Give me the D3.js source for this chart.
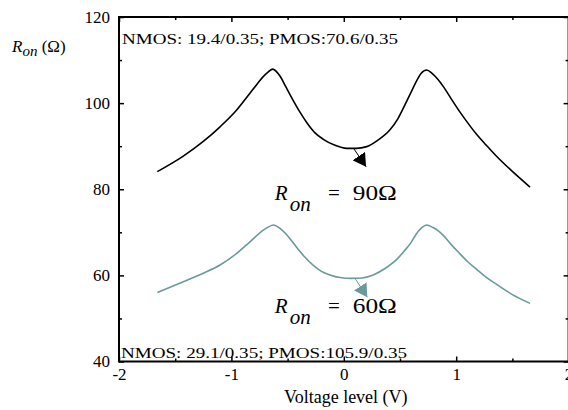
<!DOCTYPE html>
<html lang="en">
<head>
<meta charset="UTF-8">
<title>Ron vs voltage level</title>
<style>
    body { margin: 0; background: #fff; }
    svg text { font-family: "Liberation Serif", "DejaVu Serif", serif; fill: #000; }
    .axis text { font-size: 17px; }
    .axis path { display: none; }
    .axis line { stroke: #000; stroke-width: 1.5; }
</style>
</head>
<body>
<svg width="568" height="410" font-family="Liberation Serif, serif"></svg>
<script src="https://cdn.jsdelivr.net/npm/d3@7"></script>
<script>
    // values
    const nmosV = [-1.659, -1.428, -1.250, -1.101, -0.953, -0.835, -0.772, -0.719, -0.674, -0.633, -0.568, -0.514, -0.452, -0.390, -0.327, -0.256, -0.182, -0.078, 0.026, 0.109, 0.204, 0.304, 0.411, 0.482, 0.544, 0.598, 0.642, 0.687, 0.738, 0.785, 0.838, 0.892, 0.963, 1.034, 1.106, 1.183, 1.265, 1.361, 1.497, 1.657];
    const nmosR = [84.1, 87.7, 91.1, 94.5, 98.4, 102.3, 104.4, 106.1, 107.2, 107.9, 106.3, 103.7, 100.7, 97.9, 95.4, 93.1, 91.6, 90.2, 89.5, 89.5, 89.9, 91.4, 93.8, 96.4, 99.6, 102.5, 104.9, 106.9, 107.7, 106.9, 105.5, 103.6, 100.7, 97.9, 95.3, 92.7, 90.3, 87.6, 84.2, 80.5];
    const pmosV = [-1.659, -1.428, -1.250, -1.101, -0.953, -0.835, -0.716, -0.674, -0.627, -0.568, -0.514, -0.461, -0.408, -0.345, -0.271, -0.203, -0.123, -0.034, 0.070, 0.162, 0.262, 0.367, 0.471, 0.536, 0.598, 0.642, 0.687, 0.738, 0.794, 0.838, 0.885, 0.954, 1.034, 1.105, 1.182, 1.265, 1.360, 1.496, 1.657];
    const pmosR = [56.0, 58.5, 60.5, 62.4, 65.1, 67.8, 70.5, 71.2, 71.7, 70.9, 69.6, 67.9, 66.1, 64.2, 62.3, 61.0, 60.1, 59.5, 59.3, 59.4, 60.1, 61.6, 63.7, 65.6, 67.6, 69.5, 70.9, 71.7, 71.1, 70.4, 69.3, 67.2, 65.0, 63.1, 61.4, 59.6, 57.9, 55.6, 53.5];
    const xTicks = [-2, -1, 0, 1, 2];
    const xMinor = [-1.5, -0.5, 0.5, 1.5];
    const yTicks = [40, 60, 80, 100, 120];
    const yMinor = [50, 70, 90, 110];
    const notes = ["NMOS: 19.4/0.35; PMOS:70.6/0.35", "NMOS: 29.1/0.35; PMOS:105.9/0.35"];
    const ronValues = [90, 60];

    const svg = d3.select("svg");
    const mLeft = 119, mRight = 568.6, mTop = 17, mBottom = 361.5;
    const teal = "#6a9a9a";

    const x = d3.scaleLinear().domain([-2, 2]).range([mLeft, mRight]);
    const y = d3.scaleLinear().domain([40, 120]).range([mBottom, mTop]);

    // axes, ticks point inward
    svg.append("g").attr("class", "axis")
        .attr("transform", `translate(0,${mBottom})`)
        .call(d3.axisBottom(x).tickValues(xTicks).tickSize(-5).tickPadding(6).tickFormat(d => d));
    svg.append("g").attr("class", "axis")
        .attr("transform", `translate(0,${mBottom})`)
        .call(d3.axisBottom(x).tickValues(xMinor).tickSize(-3).tickFormat(""));
    svg.append("g").attr("class", "axis")
        .attr("transform", `translate(0,${mTop})`)
        .call(d3.axisTop(x).tickValues(xTicks).tickSize(-5).tickFormat(""));
    svg.append("g").attr("class", "axis")
        .attr("transform", `translate(0,${mTop})`)
        .call(d3.axisTop(x).tickValues(xMinor).tickSize(-3).tickFormat(""));
    svg.append("g").attr("class", "axis")
        .attr("transform", `translate(${mLeft},0)`)
        .call(d3.axisLeft(y).tickValues(yTicks).tickSize(-5).tickPadding(9).tickFormat(d => d));
    svg.append("g").attr("class", "axis")
        .attr("transform", `translate(${mLeft},0)`)
        .call(d3.axisLeft(y).tickValues(yMinor).tickSize(-3).tickFormat(""));
    svg.append("g").attr("class", "axis")
        .attr("transform", `translate(${mRight},0)`)
        .call(d3.axisRight(y).tickValues(yTicks).tickSize(-5).tickFormat(""));
    svg.append("g").attr("class", "axis")
        .attr("transform", `translate(${mRight},0)`)
        .call(d3.axisRight(y).tickValues(yMinor).tickSize(-3).tickFormat(""));
    svg.selectAll(".axis").attr("font-family", null).attr("font-size", null);

    svg.append("rect")
        .attr("x", mLeft).attr("y", mTop)
        .attr("width", mRight - mLeft).attr("height", mBottom - mTop)
        .attr("fill", "none").attr("stroke", "#000").attr("stroke-width", 2);

    const line = d3.line()
        .x(d => x(d[0]))
        .y(d => y(d[1]))
        .curve(d3.curveMonotoneX);

    svg.append("path")
        .datum(d3.zip(nmosV, nmosR))
        .attr("d", line)
        .attr("fill", "none").attr("stroke", "#000").attr("stroke-width", 1.6);

    svg.append("path")
        .datum(d3.zip(pmosV, pmosR))
        .attr("d", line)
        .attr("fill", "none").attr("stroke", teal).attr("stroke-width", 1.6);

    // arrows from the minimum of each curve
    const defs = svg.append("defs");
    [["blk", "#000"], ["teal", teal]].forEach(([id, c]) => {
        defs.append("marker")
            .attr("id", "arr-" + id)
            .attr("viewBox", "0 0 13 15")
            .attr("refX", 13).attr("refY", 7.5)
            .attr("markerWidth", 13).attr("markerHeight", 15)
            .attr("markerUnits", "userSpaceOnUse")
            .attr("orient", "auto")
            .append("path").attr("d", "M0,0L13,7.5L0,15Z").attr("fill", c);
    });
    svg.append("line")
        .attr("x1", x(0.091)).attr("y1", y(89.35))
        .attr("x2", x(0.198)).attr("y2", y(85.2))
        .attr("stroke", "#000").attr("stroke-width", 1)
        .attr("marker-end", "url(#arr-blk)");
    svg.append("line")
        .attr("x1", x(0.10)).attr("y1", y(59.3))
        .attr("x2", x(0.209)).attr("y2", y(54.9))
        .attr("stroke", teal).attr("stroke-width", 1)
        .attr("marker-end", "url(#arr-teal)");

    // R_on labels inside the plot
    function ronLabel(val, level) {
        const by = y(level);
        const g = svg.append("g").style("font-size", "21px");
        g.append("text").attr("x", x(-0.615)).attr("y", by).style("font-style", "italic").text("R");
        g.append("text").attr("x", x(-0.48)).attr("y", by + 11).style("font-style", "italic").text("on");
        g.append("text").attr("x", x(-0.14)).attr("y", by).text("=");
        g.append("text").attr("x", x(0.08)).attr("y", by)
            .attr("textLength", 44).attr("lengthAdjust", "spacingAndGlyphs")
            .text(val + "Ω");
    }
    ronLabel(ronValues[0], 77.5);
    ronLabel(ronValues[1], 51.2);

    svg.append("text")
        .attr("x", mLeft + 3).attr("y", y(113.7))
        .style("font-size", "15px")
        .attr("textLength", 276).attr("lengthAdjust", "spacingAndGlyphs")
        .text(notes[0]);
    svg.append("text")
        .attr("x", mLeft + 2).attr("y", y(40.9))
        .style("font-size", "15px")
        .attr("textLength", 286).attr("lengthAdjust", "spacingAndGlyphs")
        .text(notes[1]);

    // axis titles
    svg.append("text")
        .attr("x", x(0) + 2).attr("y", 403)
        .attr("text-anchor", "middle")
        .style("font-size", "18px")
        .text("Voltage level (V)");

    const yt = svg.append("text").attr("x", 12).attr("y", 52).style("font-size", "17px");
    yt.append("tspan").style("font-style", "italic").text("R");
    yt.append("tspan").style("font-style", "italic").style("font-size", "15px").attr("dy", 4).text("on");
    yt.append("tspan").attr("dy", -4).text(" (Ω)");
</script>
</body>
</html>
